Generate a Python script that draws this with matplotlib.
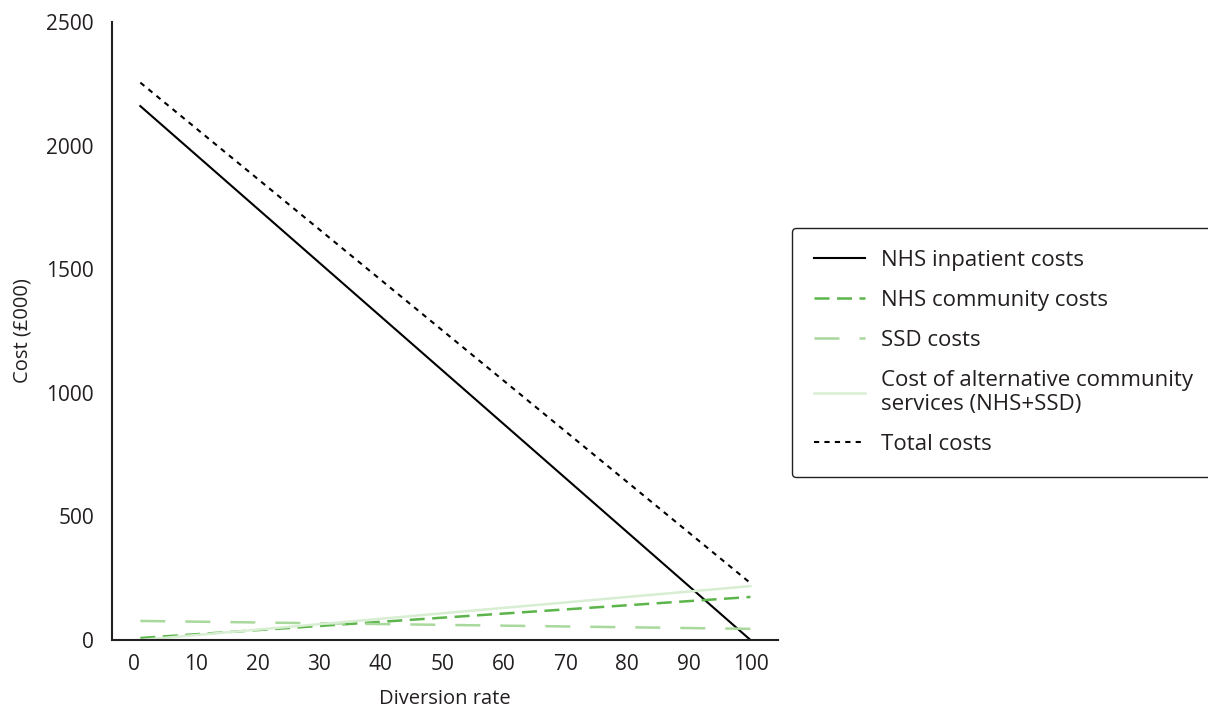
import matplotlib.pyplot as plt

plt.rcParams['font.family'] = ['Open Sans', 'DejaVu Sans']

# data (straight lines, endpoints)
diversion = [1, 100]
nhs_inpatient = [2160, 0]
nhs_community = [8, 174]
ssd = [77, 45]
alt_community = [0, 218]
total = [2255, 230]

fig = plt.figure(figsize=(12.08, 7.07), dpi=100)
ax = fig.add_axes([0.0927, 0.0948, 0.551, 0.874])

ax.plot(diversion, nhs_inpatient, color='black', lw=1.5, label='NHS inpatient costs')
ax.plot(diversion, nhs_community, color='#5bb54a', lw=1.8, dashes=(6, 3),
        label='NHS community costs')
ax.plot(diversion, ssd, color='#a9d89c', lw=1.8, dashes=(10, 8), label='SSD costs')
ax.plot(diversion, alt_community, color='#d8eed3', lw=1.8,
        label='Cost of alternative community\nservices (NHS+SSD)')
ax.plot(diversion, total, color='black', lw=1.5, dashes=(2.5, 2.5), label='Total costs')

ax.set_xlim(-3.6, 104.4)
ax.set_ylim(0, 2500)
ax.set_xticks(range(0, 101, 10))
ax.set_yticks(range(0, 2501, 500))
ax.tick_params(length=0, labelsize=15, colors='#231f20')
ax.tick_params(axis='y', pad=13)
ax.tick_params(axis='x', pad=10)
ax.spines['top'].set_visible(False)
ax.spines['right'].set_visible(False)
for s in ['left', 'bottom']:
    ax.spines[s].set_color('#231f20')
    ax.spines[s].set_linewidth(1.5)

ax.set_xlabel('Diversion rate', fontsize=14.5, color='#231f20', labelpad=10)
ax.set_ylabel('Cost (£000)', fontsize=14.5, color='#231f20', labelpad=10)

leg = fig.legend(loc='upper left', bbox_to_anchor=(0.6556, 0.6775), fontsize=16,
                 frameon=True, fancybox=True, handlelength=2.3, labelspacing=0.85,
                 borderpad=1.0, borderaxespad=0, handletextpad=0.7, framealpha=1)
leg.get_frame().set_edgecolor('#231f20')
leg.get_frame().set_linewidth(1.0)
for t in leg.get_texts():
    t.set_color('#231f20')

plt.savefig('out.png', dpi=100)
